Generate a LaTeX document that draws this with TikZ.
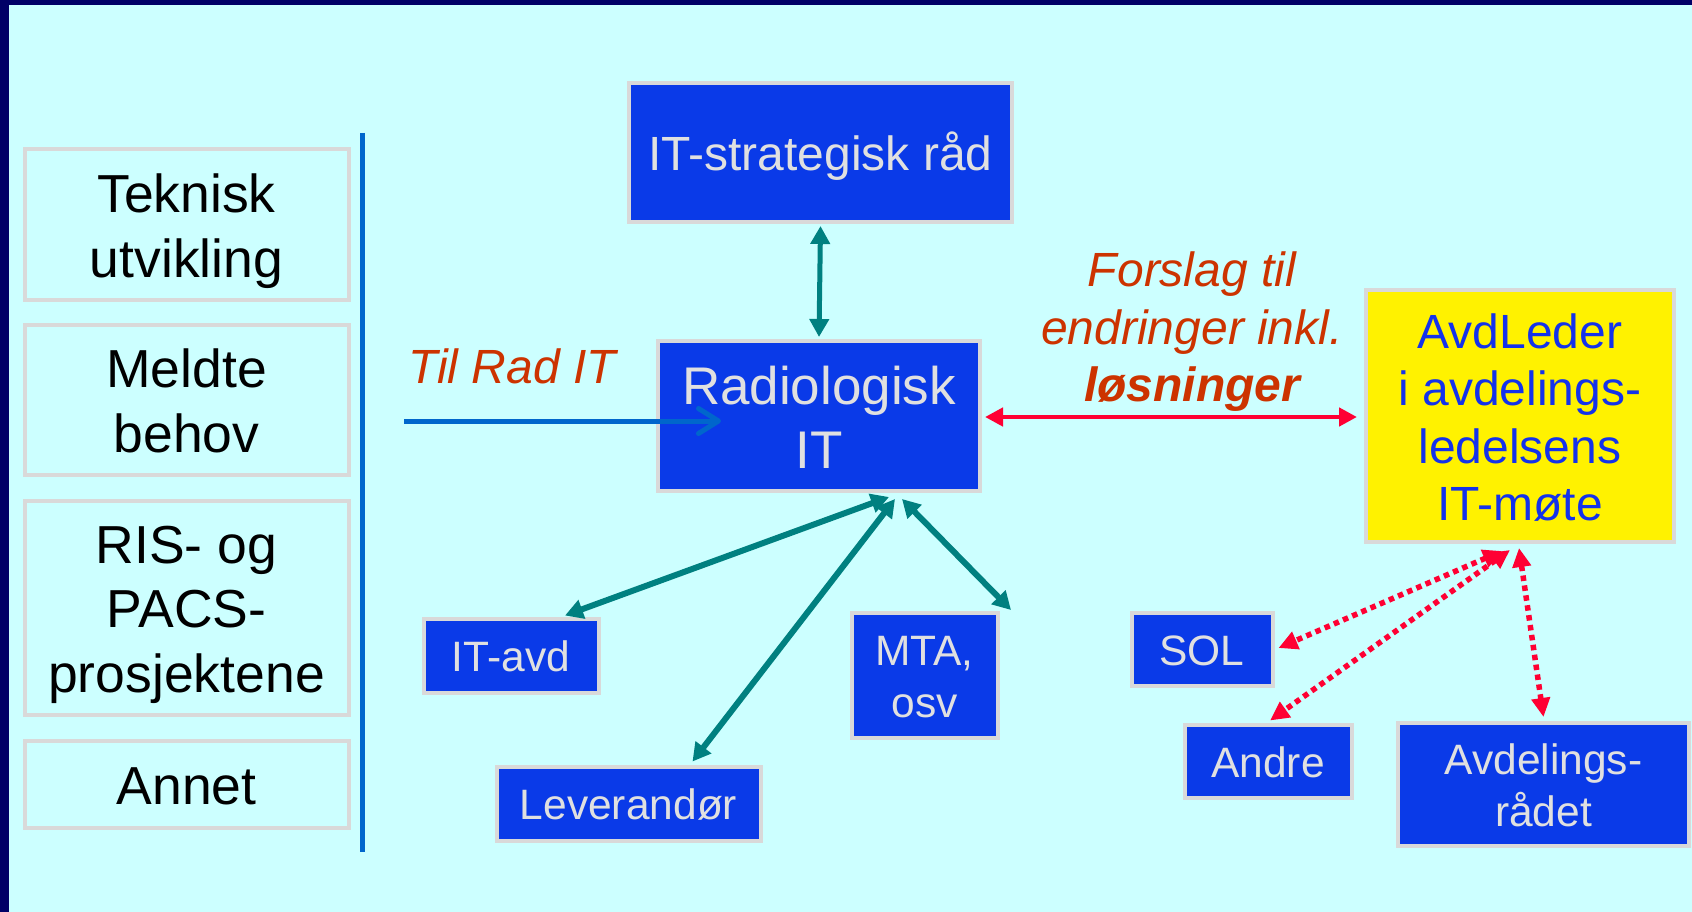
\documentclass[tikz,border=0pt]{standalone}
\usepackage{fontspec}
\setmainfont{Liberation Sans}
\usetikzlibrary{arrows.meta}

\definecolor{bg}{RGB}{204,255,255}
\definecolor{navy}{RGB}{0,0,102}
\definecolor{boxblue}{RGB}{10,58,232}
\definecolor{boxrim}{RGB}{217,217,217}
\definecolor{boxtext}{RGB}{224,224,224}
\definecolor{tealc}{RGB}{0,128,128}
\definecolor{redarrow}{RGB}{255,0,51}
\definecolor{rust}{RGB}{204,51,0}
\definecolor{linkblue}{RGB}{0,102,204}
\definecolor{avdtext}{RGB}{20,50,235}

% strut spanning the font's ascent and descent, so lines centre like a slide text box
\newcommand{\lstrut}{\rule[-0.212em]{0pt}{1.19em}}

\begin{document}
\begin{tikzpicture}[x=1pt,y=-1pt,
  bluebox/.style={draw=boxrim, line width=4pt, fill=boxblue, text=boxtext,
    align=center, inner sep=0pt},
  sidebox/.style={draw=boxrim, line width=4pt, align=center, inner sep=0pt,
    minimum width=324pt, font=\fontsize{53.5}{63}\selectfont},
  smalltext/.style={font=\fontsize{42.5}{52}\selectfont},
  tealarrow/.style={draw=tealc, line width=6pt,
    {Triangle[length=18pt,width=19pt]}-{Triangle[length=18pt,width=19pt]}},
  dotarrow/.style={draw=redarrow, line width=5.5pt, dash pattern=on 5.5pt off 4.5pt,
    {Triangle[length=19pt,width=18pt]}-{Triangle[length=19pt,width=18pt]}},
]
% page and frame
\useasboundingbox (0,0) rectangle (1692,912);
\fill[bg] (0,0) rectangle (1692,912);
\fill[navy] (0,0) rectangle (8.5,912);
\fill[navy] (0,0) rectangle (1692,5);

% left column of topics
\node[sidebox, minimum height=150pt] (tek) at (186.5,224.5) {\lstrut Teknisk\\\lstrut utvikling};
\node[sidebox, minimum height=150pt] (meldte) at (186.5,399.5) {\lstrut Meldte\\\lstrut behov};
\node[sidebox, minimum height=214pt] (ris) at (186.5,607.5) {\lstrut RIS- og\\\lstrut PACS-\\\lstrut prosjektene};
\node[sidebox, minimum height=87pt] (annet) at (186.5,784) {\lstrut Annet};

% divider
\draw[linkblue, line width=5pt] (362.5,133) -- (362.5,852);

% main boxes
\node[bluebox, minimum width=383pt, minimum height=139pt,
  font=\fontsize{48}{58}\selectfont] (strat) at (820.5,152.5) {\lstrut IT-strategisk råd};
\node[bluebox, minimum width=322pt, minimum height=150pt,
  font=\fontsize{53}{63}\selectfont] (rad) at (819,416) {\lstrut Radiologisk\\\lstrut IT};
\node[draw=boxrim, line width=4pt, fill=yellow, text=avdtext, align=center,
  inner sep=0pt, minimum width=308pt, minimum height=252pt,
  font=\fontsize{48}{57.5}\selectfont] (avd) at (1520,416)
  {\lstrut AvdLeder\\\lstrut i avdelings-\\\lstrut ledelsens\\\lstrut IT-møte};

% partner boxes
\node[bluebox, smalltext, minimum width=175pt, minimum height=74pt] (itavd) at (511,655.5) {\lstrut IT-avd};
\node[bluebox, smalltext, minimum width=264pt, minimum height=74pt] (lev) at (628.5,803.5) {\lstrut Leverandør};
\node[bluebox, smalltext, minimum width=146pt, minimum height=125pt] (mta) at (924.5,675) {\lstrut MTA,\\\lstrut osv};
\node[bluebox, smalltext, minimum width=141pt, minimum height=73pt] (sol) at (1202,649) {\lstrut SOL};
\node[bluebox, smalltext, minimum width=167pt, minimum height=73pt] (andre) at (1268,761) {\lstrut Andre};
\node[bluebox, smalltext, minimum width=291pt, minimum height=123pt] (avdr) at (1543.5,784.5) {\lstrut Avdelings-\\\lstrut rådet};

% labels
\node[text=rust, inner sep=0pt, font=\fontsize{48}{55}\selectfont\itshape] (tilrad) at (512,366) {Til Rad IT};
\node[text=rust, inner sep=0pt, align=center, font=\fontsize{48}{57.5}\selectfont\itshape]
  (forslag) at (1192,332) {Forslag til\\endringer inkl.\\\textbf{løsninger}};

% incoming input arrow
\coordinate (tilstart) at (404,421);
\draw[linkblue, line width=5pt, -{Straight Barb[length=20pt,width=25pt,round]}]
  (tilstart) -- ([xshift=65pt,yshift=-5pt]rad.west);

% strategic council link
\draw[tealarrow, line width=5pt] ([yshift=-2pt]strat.south) -- ([yshift=2pt]rad.north);

% links to partners
\coordinate (mtaend) at (1011,610);
\draw[tealarrow] ([xshift=70pt,yshift=-4pt]rad.south) -- ([xshift=54pt,yshift=1pt]itavd.north);
\draw[tealarrow] ([xshift=76pt,yshift=-6pt]rad.south) -- ([xshift=64pt,yshift=3pt]lev.north);
\draw[tealarrow] ([xshift=83pt,yshift=-6pt]rad.south) -- (mtaend);

% proposals to department management
\draw[redarrow, line width=4.5pt,
  {Triangle[length=18pt,width=18pt]}-{Triangle[length=18pt,width=18pt]}]
  ([xshift=3pt,yshift=-1pt]rad.east) -- ([xshift=-7pt,yshift=-1pt]avd.west);

% dotted links from department management
\draw[dotarrow] ([xshift=-18pt,yshift=-7pt]avd.south) -- ([xshift=4pt,yshift=1pt]sol.east);
\draw[dotarrow] ([xshift=-10pt,yshift=-6pt]avd.south) -- ([xshift=2pt,yshift=2pt]andre.north);
\draw[dotarrow] ([xshift=-1pt,yshift=-4pt]avd.south) -- ([yshift=4pt]avdr.north);
\end{tikzpicture}
\end{document}
